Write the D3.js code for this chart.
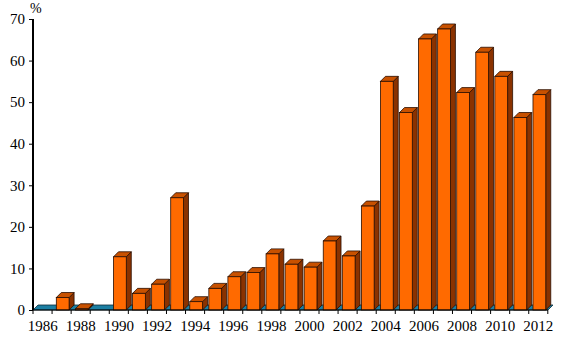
<!DOCTYPE html>
<html>
<head>
<meta charset="utf-8">
<script src="https://cdn.jsdelivr.net/npm/d3@7"></script>
<style>
  body { margin: 0; background: #fff; }
  text { font-family: "Liberation Serif", "Times New Roman", serif; fill: #000; }
</style>
</head>
<body>
<div id="chart"></div>
<script>
// 3d column chart, share by year
let years = ['1986','1987','1988','1989','1990','1991','1992','1993','1994','1995','1996','1997','1998','1999',
             '2000','2001','2002','2003','2004','2005','2006','2007','2008','2009','2010','2011','2012']
let values = [0, 3, 0.3, 0, 12.8, 4, 6.2, 27, 2, 5.2, 8, 9, 13.5, 11, 10.3, 16.6, 13, 25, 55, 47.5, 65.2, 67.6, 52.3, 62, 56.2, 46.3, 51.8]
let yTicks = [0, 10, 20, 30, 40, 50, 60, 70]

let width = 563, height = 341
let margin = {left: 33, right: 15, top: 19, bottom: 31}
let depth = 5 // 3d offset in px

let svg = d3.select('#chart').append('svg')
    .attr('width', width)
    .attr('height', height)

let x = d3.scaleBand().domain(years).range([margin.left, width - margin.right]).paddingInner(0.33).paddingOuter(0.17)
let y = d3.scaleLinear().domain([0, 70]).range([height - margin.bottom, margin.top])
let base = y(0)

// teal floor
let x0 = margin.left, x1 = width - margin.right
svg.append('path')
    .attr('d', `M${x0},${base} L${x0 + depth},${base - depth} L${x1 + depth},${base - depth} L${x1},${base} Z`)
    .attr('fill', '#1b7fa3')
    .attr('stroke', '#0b2b38')
    .attr('stroke-width', 0.8)

// bars
let bars = svg.selectAll('g.bar')
    .data(values.map((v, i) => ({year: years[i], value: v})))
    .enter()
    .append('g')
    .attr('class', 'bar')
    .filter(d => d.value > 0)

let shift = 1
bars.append('path') // side
    .attr('d', d => {
        let bx = x(d.year) + shift + x.bandwidth(), top = y(d.value)
        return `M${bx},${base} L${bx + depth},${base - depth} L${bx + depth},${top - depth} L${bx},${top} Z`
    })
    .attr('fill', '#8a3200')
    .attr('stroke', '#2a0e00')
    .attr('stroke-width', 0.8)

bars.append('path') // top
    .attr('d', d => {
        let bx = x(d.year) + shift, w = x.bandwidth(), top = y(d.value)
        return `M${bx},${top} L${bx + depth},${top - depth} L${bx + w + depth},${top - depth} L${bx + w},${top} Z`
    })
    .attr('fill', '#c85100')
    .attr('stroke', '#2a0e00')
    .attr('stroke-width', 0.8)

bars.append('rect') // front
    .attr('x', d => x(d.year) + shift)
    .attr('y', d => y(d.value))
    .attr('width', x.bandwidth())
    .attr('height', d => base - y(d.value))
    .attr('fill', '#ff6a00')
    .attr('stroke', '#2a0e00')
    .attr('stroke-width', 0.8)

// y axis
let yAxis = d3.axisLeft(y).tickValues(yTicks).tickSize(4).tickPadding(4)
let gy = svg.append('g')
    .attr('transform', `translate(${margin.left},0)`)
    .call(yAxis)
gy.attr('font-family', null)
gy.select('.domain').attr('stroke-width', 2).attr('d', `M0,${margin.top}V${base}`)
gy.selectAll('text').style('font-size', '15px')

// x axis with ticks at category boundaries
let gx = svg.append('g')
gx.append('line')
    .attr('x1', x0).attr('x2', x1)
    .attr('y1', base).attr('y2', base)
    .attr('stroke', '#000').attr('stroke-width', 1.2)
let step = x.step()
gx.selectAll('line.tick')
    .data(d3.range(years.length + 1))
    .enter()
    .append('line')
    .attr('class', 'tick')
    .attr('x1', i => x0 + i * step).attr('x2', i => x0 + i * step)
    .attr('y1', base).attr('y2', base + 4)
    .attr('stroke', '#000')
gx.selectAll('text')
    .data(years.filter((d, i) => i % 2 == 0))
    .enter()
    .append('text')
    .attr('x', d => x(d) + x.bandwidth() / 2)
    .attr('y', base + 21)
    .attr('text-anchor', 'middle')
    .style('font-size', '15px')
    .text(d => d)

// unit label
svg.append('text')
    .attr('x', 30)
    .attr('y', 13)
    .style('font-size', '14px')
    .text('%')
</script>
</body>
</html>
